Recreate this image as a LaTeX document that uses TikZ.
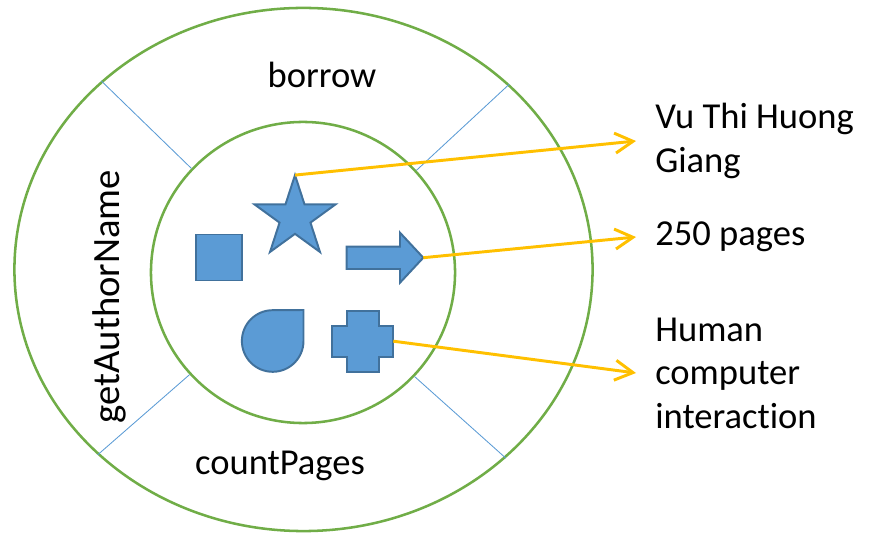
\documentclass[tikz,border=0pt]{standalone}
\usepackage{fontspec}
\setmainfont{Carlito}[Ligatures=NoCommon]
\usetikzlibrary{arrows.meta,shapes.geometric}
\definecolor{ringgreen}{HTML}{70AD47}
\definecolor{shapeblue}{HTML}{5B9BD5}
\definecolor{shapeedge}{HTML}{41719C}
\definecolor{linkyellow}{HTML}{FFC000}
\tikzset{ring/.style={ellipse,draw=ringgreen,line width=1.8pt,inner sep=0pt},divider/.style={draw=shapeblue,line width=0.6pt},blob/.style={fill=shapeblue,draw=shapeedge,line width=1.4pt,inner sep=0pt,outer sep=0pt},word/.style={font=\fontsize{26}{31}\selectfont,inner sep=0pt},info/.style={word,align=left,anchor=west,inner xsep=0.475cm},arrowout/.style={-{Straight Barb[length=4.5mm,width=5mm]},draw=linkyellow,line width=2.1pt}}

\begin{document}
\begin{tikzpicture} [x=0.025cm, y=-0.025cm]

\useasboundingbox (0, 0) rectangle (875, 536);

\node(outer) at (303.5, 269.5) [ring, minimum width=14.45cm, minimum height=13.075cm] {};
\node(inner) at (303, 272.5) [ring, minimum width=7.6cm, minimum height=7.525cm] {};

\draw[divider] (inner.137.5) -- (outer.137.5);
\draw[divider] (inner.42.5) -- (outer.42.5);
\draw[divider] (inner.222.5) -- (outer.222.5);
\draw[divider] (inner.317.5) -- (outer.317.5);

\node(borrow) at (322, 88) [word, anchor=base] {borrow};
\node(count) at (280, 475) [word, anchor=base] {countPages};
\node(author) at (119, 296.7) [word, anchor=base, rotate=90, font=\fontsize{27.5}{31}\selectfont] {getAuthorName};

\node(square) at (219, 257.5) [blob, rectangle, minimum size=1.15cm] {};
\node(star) at (295, 217.6) [blob, star, star points=5, star point ratio=2.618, minimum size=2.125cm] {};
\draw[blob] (346.7, 246.7) -- (400, 246.7) -- (400, 232.7) -- (423.3, 257.7) -- (400, 282.7) -- (400, 269) -- (346.7, 269) -- cycle;
\coordinate(tip) at (423.3, 257.7);
\draw[blob] (303.5, 310) -- (303.5, 341) arc[start angle=0, end angle=-270, radius=0.77cm] -- cycle;
\draw[blob] (346.7, 310.7) -- (379, 310.7) -- (379, 325.7) -- (393.3, 325.7) -- (393.3, 356.7) -- (379, 356.7) -- (379, 371.7) -- (346.7, 371.7) -- (346.7, 356.7) -- (331.7, 356.7) -- (331.7, 325.7) -- (346.7, 325.7) -- cycle;
\coordinate(plus) at (393.3, 341.2);

\node(giang) at (636, 141) [info] {Vu Thi Huong\\Giang};
\node(pages) at (636, 237) [info] {250 pages};
\node(hci) at (636, 373) [info] {Human\\computer\\interaction};

\draw (star.north) edge[arrowout] (giang.west);
\draw (tip) edge[arrowout] (pages.west);
\draw (plus) edge[arrowout] (hci.west);

\end{tikzpicture}
\end{document}
